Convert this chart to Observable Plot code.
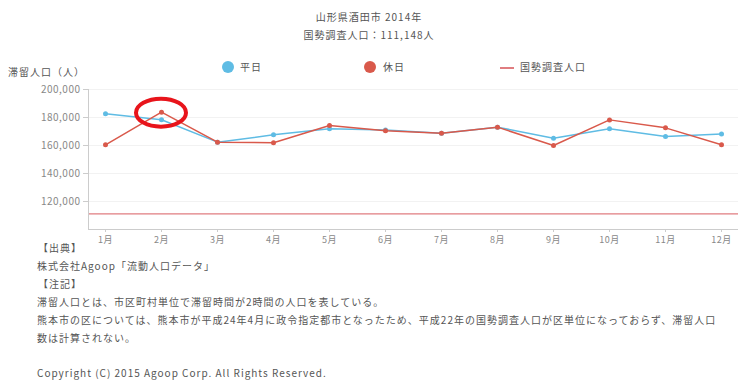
<!DOCTYPE html>
<html><head><meta charset="utf-8">
<script src="https://cdn.jsdelivr.net/npm/d3@7"></script>
<script src="https://cdn.jsdelivr.net/npm/@observablehq/plot@0.6"></script>
<style>
html,body{margin:0;padding:0;background:#fff;}
body{font-family:"Noto Sans CJK JP","Noto Sans",sans-serif;color:#555;}
#wrap{position:relative;width:738px;height:380px;overflow:hidden;}
.t{position:absolute;white-space:nowrap;font-size:10px;line-height:12px;letter-spacing:1px;}
#chart{position:absolute;left:0;top:0;}
.dot{position:absolute;width:12px;height:12px;border-radius:50%;}
</style></head>
<body>
<div id="wrap">
  <div id="chart"></div>
  <div class="t" style="left:0;width:738px;text-align:center;top:11px;">山形県酒田市 2014年</div>
  <div class="t" style="left:0;width:738px;text-align:center;top:29px;">国勢調査人口：111,148人</div>
  <div class="t" style="left:8px;top:66px;">滞留人口（人）</div>
  <div class="dot" style="left:222px;top:61px;background:#5fbce4;"></div>
  <div class="t" style="left:240px;top:61px;" id="lg0"></div>
  <div class="dot" style="left:364px;top:61px;background:#d9594b;"></div>
  <div class="t" style="left:383px;top:61px;" id="lg1"></div>
  <div style="position:absolute;left:500px;top:67px;width:14px;height:2px;background:#e07d80;"></div>
  <div class="t" style="left:520px;top:61px;" id="lg2"></div>
  <div class="t" style="left:38px;top:242px;">【出典】</div>
  <div class="t" style="left:37px;top:260px;">株式会社Agoop「流動人口データ」</div>
  <div class="t" style="left:38px;top:278px;">【注記】</div>
  <div class="t" style="left:37px;top:296px;">滞留人口とは、市区町村単位で滞留時間が2時間の人口を表している。</div>
  <div class="t" style="left:37px;top:314px;">熊本市の区については、熊本市が平成24年4月に政令指定都市となったため、平成22年の国勢調査人口が区単位になっておらず、滞留人口</div>
  <div class="t" style="left:37px;top:332px;">数は計算されない。</div>
  <div class="t" style="left:37px;top:367px;">Copyright (C) 2015 Agoop Corp. All Rights Reserved.</div>
</div>
<script>
const months = ["1月","2月","3月","4月","5月","6月","7月","8月","9月","10月","11月","12月"];
const seriesNames = ["平日","休日","国勢調査人口"];
const weekday = [182600,178400,162400,167600,171900,171000,168800,173100,165200,171900,166400,168300];
const holiday = [160500,183800,162400,161900,174300,170500,168800,173100,160000,178300,172600,160500];
const census = 111148;
const yTicks = [120000,140000,160000,180000,200000];

document.getElementById("lg0").textContent = seriesNames[0];
document.getElementById("lg1").textContent = seriesNames[1];
document.getElementById("lg2").textContent = seriesNames[2];

const wd = months.map((m,i)=>({m, v:weekday[i]}));
const hd = months.map((m,i)=>({m, v:holiday[i]}));
const blue = "#5fbce4", red = "#d9594b";

const plot = Plot.plot({
  width: 738, height: 250,
  marginLeft: 88, marginRight: 0, marginTop: 89, marginBottom: 21,
  style: {fontFamily: '"Noto Sans CJK JP","Noto Sans",sans-serif', fontSize: "9px", color: "#777", background: "transparent", letterSpacing: "0.5px"},
  x: {type: "point", domain: months, padding: 0.3, label: null},
  y: {domain: [100000, 200000], label: null},
  marks: [
    Plot.gridY(yTicks, {stroke: "#f2f2f2", strokeOpacity: 1}),
    Plot.ruleY([census], {stroke: "#e07d80", strokeWidth: 1.2}),
    Plot.frame({anchor: "left", stroke: "#ccc"}),
    Plot.frame({anchor: "bottom", stroke: "#ccc"}),
    Plot.axisY({ticks: yTicks, tickFormat: d3.format(","), tickSize: 5, tickPadding: 3, stroke: "#ccc", fill: "#888", label: null, fontSize: 10, style: {letterSpacing: "1px"}}),
    Plot.axisX({tickSize: 3, tickPadding: 4, stroke: "#ccc", fill: "#888", label: null}),
    Plot.line(wd, {x: "m", y: "v", stroke: blue, strokeWidth: 1.5}),
    Plot.dot(wd, {x: "m", y: "v", fill: blue, r: 2.5}),
    Plot.line(hd, {x: "m", y: "v", stroke: red, strokeWidth: 1.5}),
    Plot.dot(hd, {x: "m", y: "v", fill: red, r: 2.5})
  ]
});
document.getElementById("chart").appendChild(plot);
const cx = plot.scale("x").apply(months[1]);
const cy = plot.scale("y").apply(holiday[1]);
d3.select(plot).append("ellipse")
  .attr("cx", cx).attr("cy", cy + 1)
  .attr("rx", 25).attr("ry", 14)
  .attr("fill", "none").attr("stroke", "#e8141b").attr("stroke-width", 4);
</script>
</body></html>
